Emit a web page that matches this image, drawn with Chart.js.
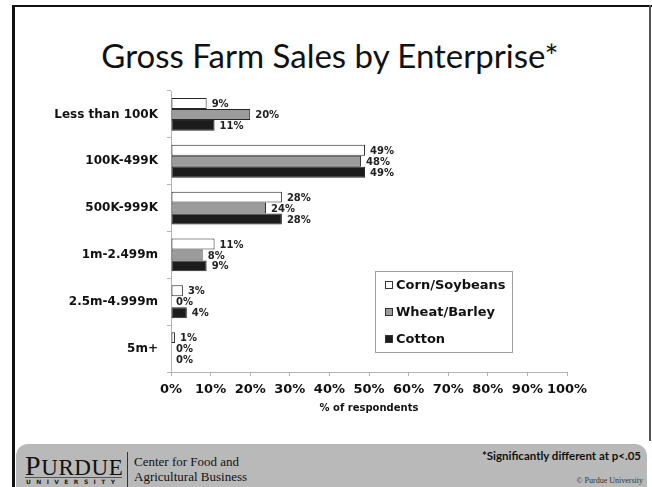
<!DOCTYPE html>
<html>
<head>
<meta charset="utf-8">
<script src="https://cdn.jsdelivr.net/npm/chart.js@4/dist/chart.umd.min.js"></script>
<style>
  html, body { margin: 0; padding: 0; background: #fff; }
  #slide { position: relative; width: 652px; height: 487px; overflow: hidden; background: #fff; }
  #frameTop { position: absolute; left: 12px; top: 5px; width: 640px; height: 2px; background: #111; }
  #frameLeft { position: absolute; left: 12px; top: 5px; width: 3px; height: 482px; background: #111; }
  #frameRight { position: absolute; left: 649px; top: 5px; width: 2px; height: 436px; background: #555; }
  #title { position: absolute; left: 0; top: 35px; width: 660px; text-align: center;
           font-family: Lato, "Open Sans", sans-serif; font-size: 33px; color: #111; }
  #footer { position: absolute; left: 16px; top: 444px; width: 631px; height: 43px;
            background: #b9b9b9; border-radius: 12px 12px 0 0; }
  .serif { font-family: "Liberation Serif", "DejaVu Serif", serif; color: #111; position: absolute; white-space: nowrap; }
  #purdue { left: 9px; top: 6px; font-size: 23px; letter-spacing: 0.6px; }
  #purdue .big { font-size: 28px; }
  #univ { left: 10px; top: 34px; font-family: "DejaVu Sans", sans-serif; font-weight: bold;
          font-size: 6px; letter-spacing: 5.4px; color: #222; position: absolute; }
  #univLine { position: absolute; left: 9px; top: 33px; width: 97px; height: 1px; background: #555; }
  #divider { position: absolute; left: 111px; top: 8px; width: 1px; height: 35px; background: #333; }
  #center { left: 118px; top: 10px; font-size: 13px; line-height: 15px; }
  #sig { position: absolute; right: 6px; top: 5px; font-family: Lato, "Open Sans", sans-serif;
         font-weight: bold; font-size: 11.5px; color: #111; }
  #copy { right: 4px; top: 32px; font-size: 8px; color: #333; }
  #chart { position: absolute; left: 0; top: 0; }
</style>
</head>
<body>
<div id="slide">
  <div id="frameTop"></div>
  <div id="frameLeft"></div>
  <div id="frameRight"></div>
  <div id="title">Gross Farm Sales by Enterprise*</div>
  <div id="footer">
    <div id="purdue" class="serif"><span class="big">P</span>URDUE</div>
    <div id="univLine"></div>
    <div id="univ">UNIVERSITY</div>
    <div id="divider"></div>
    <div id="center" class="serif">Center for Food and<br>Agricultural Business</div>
    <div id="sig">*Significantly different at p&lt;.05</div>
    <div id="copy" class="serif">© Purdue University</div>
  </div>
  <canvas id="chart" width="652" height="487"></canvas>
</div>
<script>
const categories = ['Less than 100K', '100K-499K', '500K-999K', '1m-2.499m', '2.5m-4.999m', '5m+'];
const seriesNames = ['Corn/Soybeans', 'Wheat/Barley', 'Cotton'];
const cornSoybeans = [9, 49, 28, 11, 3, 1];
const wheatBarley = [20, 48, 24, 8, 0, 0];
const cotton = [11, 49, 28, 9, 4, 0];
const xTicks = [0, 10, 20, 30, 40, 50, 60, 70, 80, 90, 100];

const boldFont = '"DejaVu Sans", Verdana, sans-serif';
const axisGray = '#b4b4b4';

// value labels just past the end of each bar
const barLabels = {
  id: 'barLabels',
  afterDatasetsDraw(chart) {
    const ctx = chart.ctx;
    ctx.save();
    ctx.font = `bold 10px ${boldFont}`;
    ctx.fillStyle = '#222';
    ctx.textBaseline = 'middle';
    ctx.textAlign = 'left';
    chart.data.datasets.forEach((ds, i) => {
      chart.getDatasetMeta(i).data.forEach((bar, j) => {
        ctx.fillText(ds.data[j] + '%', bar.x + 5, bar.y + 1);
      });
    });
    ctx.restore();
  }
};

// boxed legend sitting inside the plot
const boxLegend = {
  id: 'boxLegend',
  afterDraw(chart) {
    const ctx = chart.ctx;
    const left = 375, top = 271, w = 137, h = 81;
    ctx.save();
    ctx.fillStyle = '#fff';
    ctx.fillRect(left, top, w, h);
    ctx.strokeStyle = '#a0a0a0';
    ctx.lineWidth = 1;
    ctx.strokeRect(left + 0.5, top + 0.5, w, h);
    ctx.font = `bold 13px ${boldFont}`;
    ctx.textBaseline = 'middle';
    chart.data.datasets.forEach((ds, i) => {
      const y = top + 14 + i * 27;
      ctx.fillStyle = ds.backgroundColor;
      ctx.fillRect(left + 10, y - 4, 8, 8);
      ctx.strokeStyle = '#333';
      ctx.strokeRect(left + 10.5, y - 3.5, 7, 7);
      ctx.fillStyle = '#111';
      ctx.fillText(ds.label, left + 21, y + 1);
    });
    ctx.restore();
  }
};

const fills = ['#ffffff', '#9b9b9b', '#1c1c1c'];

new Chart(document.getElementById('chart'), {
  type: 'bar',
  data: {
    labels: categories,
    datasets: [cornSoybeans, wheatBarley, cotton].map((vals, i) => ({
      label: seriesNames[i],
      data: vals,
      backgroundColor: fills[i],
      borderColor: '#262626',
      borderWidth: 1,
      borderSkipped: false,
      categoryPercentage: 0.7,
      barPercentage: 1.0
    }))
  },
  options: {
    indexAxis: 'y',
    responsive: false,
    animation: false,
    layout: { padding: { top: 91, right: 85, bottom: 67, left: 0 } },
    plugins: {
      legend: { display: false },
      tooltip: { enabled: false }
    },
    scales: {
      x: {
        min: 0,
        max: 100,
        afterBuildTicks: scale => { scale.ticks = xTicks.map(v => ({ value: v })); },
        afterFit: scale => { scale.height = 48; },
        grid: { drawOnChartArea: false, drawTicks: true, tickLength: 4, color: axisGray },
        border: { color: axisGray },
        ticks: {
          padding: 6,
          maxRotation: 0,
          minRotation: 0,
          autoSkip: false,
          color: '#111',
          font: { family: boldFont, weight: 'bold', size: 13 },
          callback: v => v + '%'
        },
        title: {
          display: true,
          text: '% of respondents',
          color: '#111',
          padding: { top: 0, bottom: 6 },
          font: { family: boldFont, weight: 'bold', size: 10 }
        }
      },
      y: {
        afterFit: scale => { scale.width = 171; },
        grid: { drawOnChartArea: false, drawTicks: true, tickLength: 4, color: axisGray, offset: true },
        border: { color: axisGray },
        ticks: {
          padding: 9,
          color: '#111',
          font: { family: boldFont, weight: 'bold', size: 12 }
        }
      }
    }
  },
  plugins: [barLabels, boxLegend]
});
</script>
</body>
</html>
